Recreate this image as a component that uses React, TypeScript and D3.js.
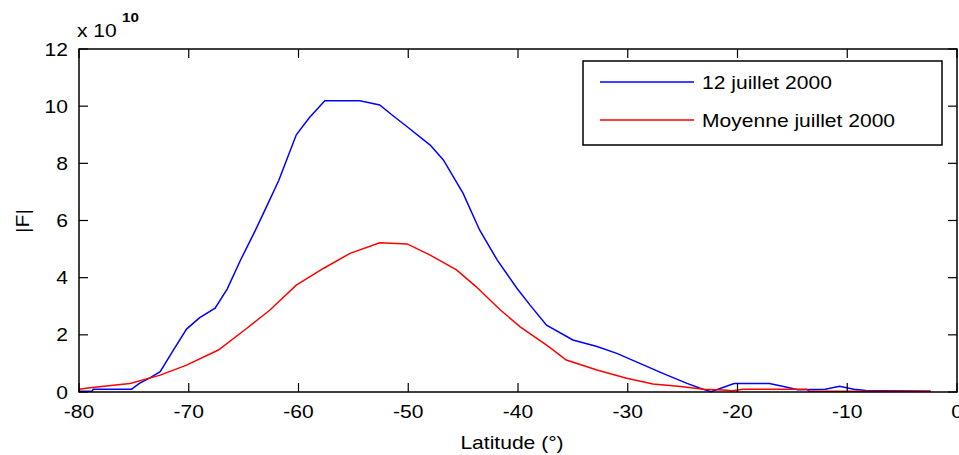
import React from "react";
import * as d3 from "d3";

const xTicks = [-80, -70, -60, -50, -40, -30, -20, -10, 0];
const yTicks = [0, 2, 4, 6, 8, 10, 12];
const seriesNames = ["12 juillet 2000", "Moyenne juillet 2000"];

const blueLat = [-80, -78.8, -78.7, -75.2, -74.5, -73.5, -72.6, -71.5, -70.2, -69, -67.6, -66.5, -65.3, -64, -63.2, -61.8, -60.2, -59, -57.6, -54.4, -52.6, -51.5, -50.1, -48, -46.8, -45, -43.5, -41.9, -40.1, -38.9, -37.4, -35, -32.8, -31, -28.9, -26.8, -24.6, -23.4, -22.4, -21.4, -20.3, -17.1, -15.9, -14.5, -12, -10.7, -9.4, -8.3, -2.4];
const blueVal = [0.03, 0.03, 0.1, 0.1, 0.3, 0.5, 0.71, 1.4, 2.2, 2.6, 2.93, 3.6, 4.6, 5.6, 6.25, 7.4, 9.0, 9.6, 10.19, 10.19, 10.04, 9.7, 9.28, 8.64, 8.12, 6.95, 5.67, 4.62, 3.63, 3.04, 2.34, 1.82, 1.59, 1.35, 1.0, 0.65, 0.3, 0.13, 0.01, 0.15, 0.3, 0.3, 0.2, 0.08, 0.1, 0.2, 0.1, 0.05, 0.03];

const redLat = [-80, -78.8, -75.35, -72.6, -70.2, -67.3, -64.7, -62.6, -60.2, -57.7, -55.3, -52.6, -50.1, -48, -45.6, -43.8, -41.6, -39.8, -37.2, -35.6, -32.8, -30.1, -27.7, -25.2, -23.1, -21.3, -20.5, -19.5, -13.7, -13.5, -2.4];
const redVal = [0.1, 0.16, 0.3, 0.59, 0.94, 1.47, 2.23, 2.87, 3.74, 4.33, 4.85, 5.22, 5.18, 4.79, 4.27, 3.68, 2.87, 2.28, 1.59, 1.12, 0.77, 0.48, 0.28, 0.19, 0.1, 0.07, 0.04, 0.1, 0.1, 0.03, 0.03];

const W = 959, H = 455;
const L = 79, R = 957, T = 49, B = 392;
const FONT = "'Liberation Sans', Arial, sans-serif";
const SX = 1.17;

function Txt({ x, y, anchor = "start", size = 18, rot = false, weight = "normal", children }: any) {
  return (
    <text
      transform={`translate(${x},${y})${rot ? " rotate(-90)" : ""} scale(${SX},1)`}
      textAnchor={anchor}
      fontSize={size}
      fontFamily={FONT}
      fontWeight={weight}
      fill="#000"
    >
      {children}
    </text>
  );
}

export default function App() {
  const x = d3.scaleLinear().domain([-80, 0]).range([L, R]);
  const y = d3.scaleLinear().domain([0, 12]).range([B, T]);
  const line = d3.line<[number, number]>().x(d => x(d[0])).y(d => y(d[1]));
  const blue = blueLat.map((v, i) => [v, blueVal[i]] as [number, number]);
  const red = redLat.map((v, i) => [v, redVal[i]] as [number, number]);
  const tl = 9;

  return (
    <svg width={W} height={H} style={{ position: "absolute", left: 0, top: 0, background: "#fff" }}>
      <rect x={0} y={0} width={W} height={H} fill="#fff" />
      <path d={line(blue) || ""} fill="none" stroke="#0000ff" strokeWidth={1.5} />
      <path d={line(red) || ""} fill="none" stroke="#ff0000" strokeWidth={1.5} />

      {/* axes box */}
      <rect x={L} y={T} width={R - L} height={B - T} fill="none" stroke="#000" strokeWidth={1.5} />
      {xTicks.map(t => (
        <g key={"x" + t}>
          <line x1={x(t)} x2={x(t)} y1={B} y2={B - tl} stroke="#000" strokeWidth={1.2} />
          <line x1={x(t)} x2={x(t)} y1={T} y2={T + tl} stroke="#000" strokeWidth={1.2} />
          <Txt x={x(t)} y={418} anchor="middle">{t}</Txt>
        </g>
      ))}
      {yTicks.map(t => (
        <g key={"y" + t}>
          <line x1={L} x2={L + tl} y1={y(t)} y2={y(t)} stroke="#000" strokeWidth={1.2} />
          <line x1={R} x2={R - tl} y1={y(t)} y2={y(t)} stroke="#000" strokeWidth={1.2} />
          <Txt x={68} y={y(t) + 6.5} anchor="end">{t}</Txt>
        </g>
      ))}
      <Txt x={77} y={37}>x 10</Txt>
      <Txt x={122} y={22} size={13} weight="bold">10</Txt>
      <Txt x={512} y={449} anchor="middle">Latitude (°)</Txt>
      <Txt x={29} y={221} anchor="middle" rot>|F|</Txt>

      {/* legend */}
      <rect x={583} y={61} width={359} height={84} fill="#fff" stroke="#000" strokeWidth={1.5} />
      {seriesNames.map((n, i) => {
        const ly = 82 + i * 38;
        return (
          <g key={n}>
            <line x1={600} x2={694} y1={ly} y2={ly} stroke={i === 0 ? "#0000ff" : "#ff0000"} strokeWidth={1.5} />
            <Txt x={702} y={ly + 6.5}>{n}</Txt>
          </g>
        );
      })}
    </svg>
  );
}
